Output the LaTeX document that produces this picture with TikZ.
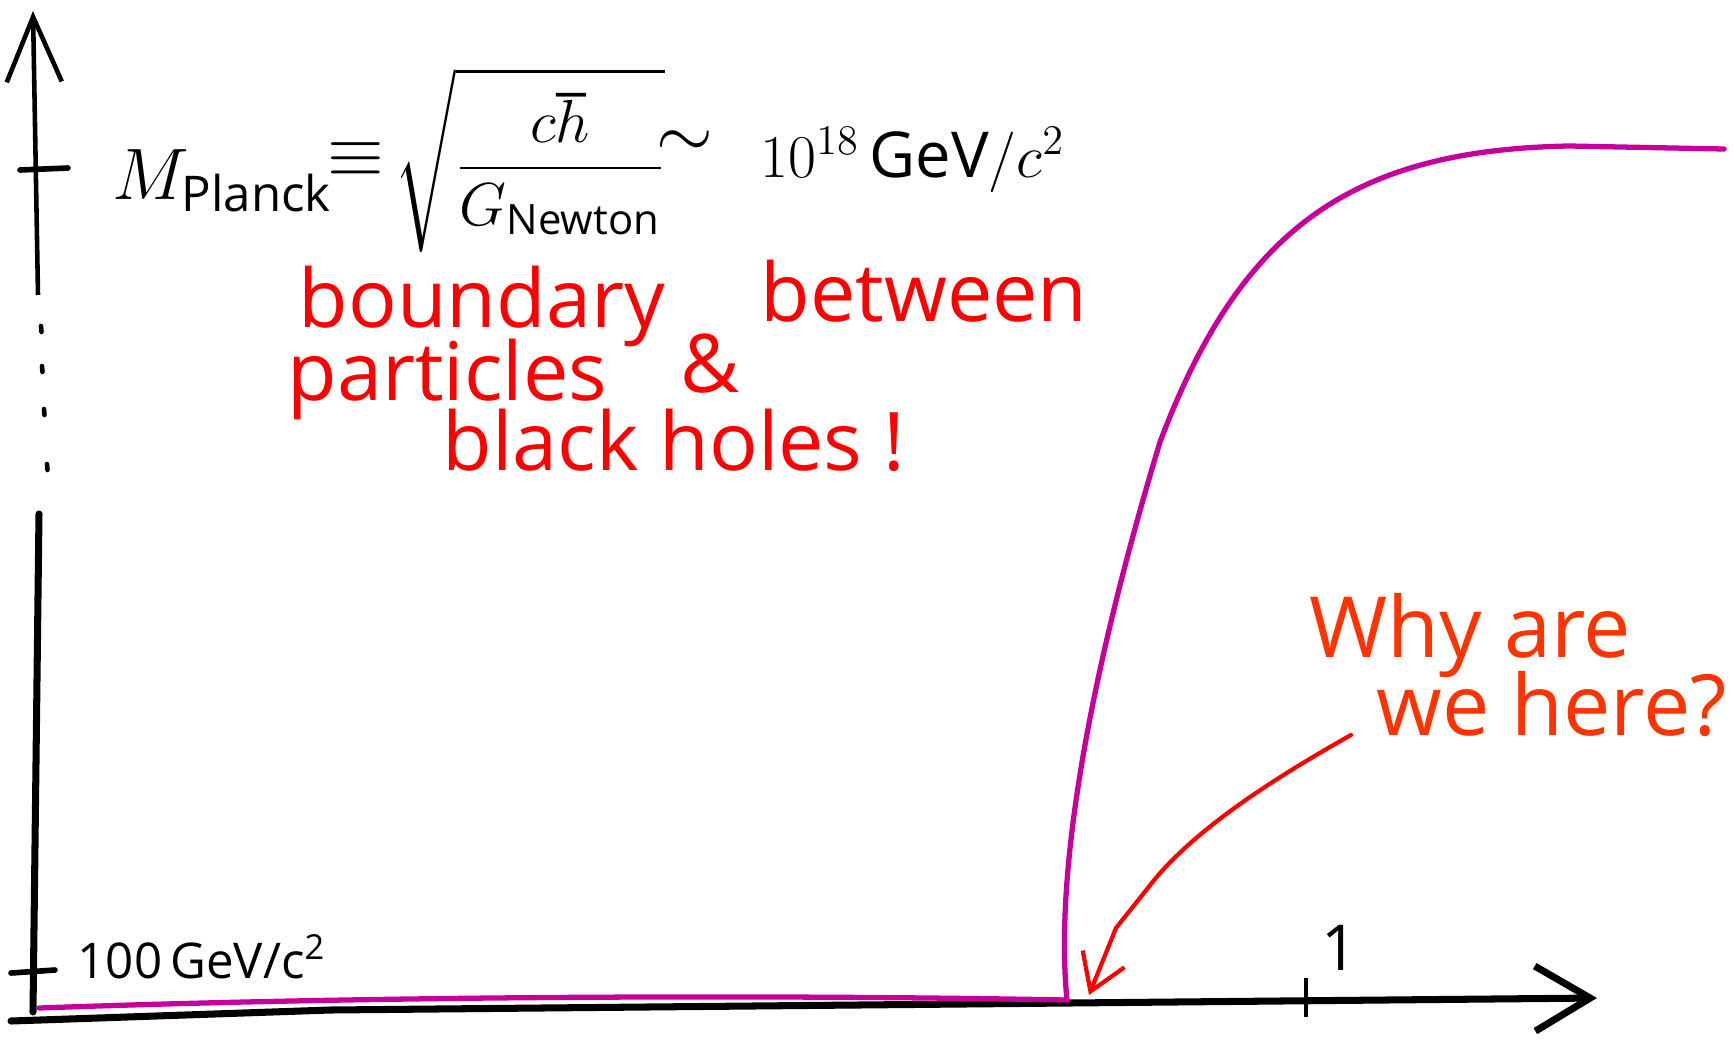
\documentclass[tikz,border=0pt]{standalone}
\usepackage{amsmath}
\usepackage{fontspec}
\setmainfont{Open Sans}
\usepackage{xcolor}
\usetikzlibrary{arrows.meta}
\definecolor{massmagenta}{HTML}{C8009B}
\definecolor{notered}{HTML}{FF0000}
\definecolor{askorange}{HTML}{FF3300}
\tikzset{
  axisline/.style={line width=2pt,line cap=round,draw=black},
  tickline/.style={line width=1.6pt,line cap=round,draw=black},
  massline/.style={line width=1.5pt,line cap=round,draw=massmagenta},
  pointer/.style={-{Straight Barb[length=3.5mm,width=4.5mm]},line width=1.2pt,
    line cap=round,draw=notered},
  notetext/.style={text=notered,font=\fontsize{23}{28}\selectfont,inner sep=0pt},
  asktext/.style={text=askorange,font=\fontsize{24}{29}\selectfont,inner sep=0pt},
  formula/.style={text=black,font=\fontsize{20}{24}\selectfont,inner sep=0pt},
  smalllabel/.style={text=black,font=\fontsize{14}{17}\selectfont,inner sep=0pt}
}
\begin{document}
\begin{tikzpicture}[x=0.01cm,y=-0.01cm]
\useasboundingbox (0,0) rectangle (1733,1039);
% axes
\coordinate (ytip) at (33,11);
\coordinate (ytop) at (38,295);
\coordinate (ylow) at (39,514);
\coordinate (origin) at (33,1012);
\coordinate (xstart) at (11,1021);
\coordinate (xtip) at (1597,998);
\draw[axisline] (origin) -- (ylow);
\draw[line width=1.3pt,-{Straight Barb[length=6.5mm,width=5.5mm]}] (ytop) -- (ytip);
\foreach \y/\x in {326/41,366/42,409/44,464/47}
  \draw[line width=1.3pt,line cap=round] (\x,\y) -- (\x+0.5,\y+6);
\draw[axisline,-{Straight Barb[length=5.5mm,width=6.5mm]}] (xstart) -- (330,1010) -- (xtip);
\draw[tickline] (20,170) -- (68,168);
\draw[tickline] (11,973) -- (55,970);
\draw[line width=1pt] (1306,978) -- (1306,1017);
% mass curve
\draw[massline] (39,1008) .. controls (400,995) and (800,995) .. (1067,1000)
  .. controls (1055,880) and (1085,690) .. (1160,442)
  .. controls (1240,230) and (1350,150) .. (1569,146) -- (1724,149);
% labels
\node[formula,anchor=base west] (mpl) at (112,199) {$M_{\text{Planck}}$};
\node[formula] (equiv) at (356,160) {$\equiv$};
\node[formula,font=\fontsize{17}{20}\selectfont] (root) at (530,160)
  {$\sqrt{\dfrac{c\hbar}{G_{\text{Newton}}}}$};
\node[formula] (sim) at (685,144) {$\sim$};
\node[formula,font=\fontsize{18}{22}\selectfont,anchor=base west] (value) at (760,177)
  {$10^{18}\,\text{GeV}/c^{2}$};
\node[smalllabel,anchor=base west] (ewscale) at (77,978) {100\,GeV/c\textsuperscript{2}};
\node[formula,font=\fontsize{18}{22}\selectfont] (one) at (1340,948) {1};
\node[notetext,anchor=base west] (boundary) at (298,327) {boundary};
\node[notetext,anchor=base west] (between) at (760,321) {between};
\node[notetext,anchor=base west] (particles) at (287,400) {particles};
\node[notetext,anchor=base west] (amp) at (680,392) {\&};
\node[notetext,anchor=base west] (holes) at (442,470) {black holes !};
\node[asktext,anchor=base west] (why) at (1309,657) {Why are};
\node[asktext,anchor=base west] (here) at (1376,735) {we here?};
\coordinate (askstart) at (1351,735);
\draw[pointer] (askstart) .. controls (1280,775) and (1200,825) .. (1155,879)
  -- (1116,928) -- (1089,995);
\end{tikzpicture}
\end{document}
